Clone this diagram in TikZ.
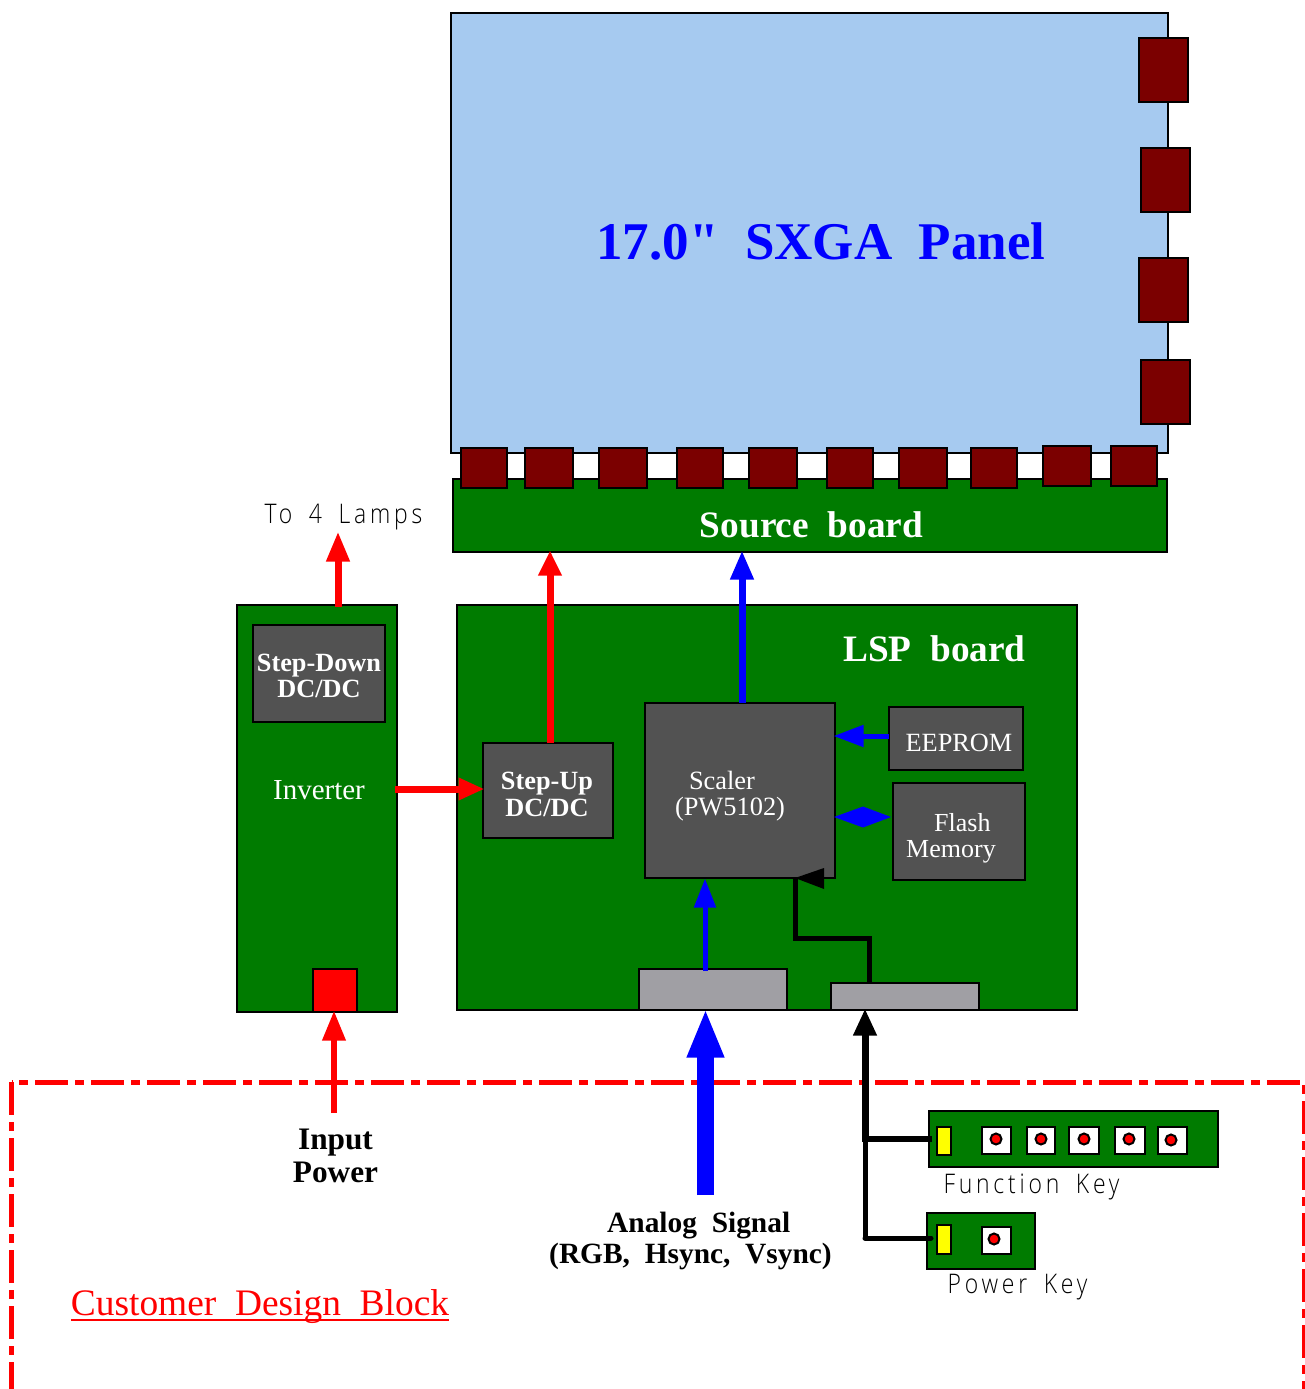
\documentclass[tikz,border=0pt]{standalone}
\usepackage{fontspec}
\setmainfont{Liberation Serif}
\newfontfamily\plainserif{Liberation Serif}
\newfontfamily\keyfont[FakeStretch=0.85,LetterSpace=14,WordSpace=1.7]{Open Sans Light}
\usetikzlibrary{arrows.meta,calc}
\definecolor{pcb}{HTML}{007B00}
\definecolor{chipgray}{HTML}{525252}
\definecolor{conngray}{HTML}{A09FA4}
\definecolor{panelblue}{HTML}{A6CAF0}
\definecolor{tabred}{HTML}{7B0000}
\definecolor{keyyellow}{HTML}{FFFF00}
\newcommand{\fs}[1]{\fontsize{#1}{#1}\selectfont}
\newcommand{\bx}[6]{\node[#2,minimum width={#5-#3},minimum height={#6-#4}] (#1) at ({(#3+#5)/2},{(#4+#6)/2}) {};}
\tikzset{
  blockbox/.style={draw=black,line width=2pt,inner sep=0pt,outer sep=0pt,rectangle},
  panelbox/.style={blockbox,fill=panelblue},
  board/.style={blockbox,fill=pcb},
  chip/.style={blockbox,fill=chipgray},
  conn/.style={blockbox,fill=conngray},
  tab/.style={blockbox,fill=tabred},
  yel/.style={blockbox,fill=keyyellow},
  keycap/.style={blockbox,fill=white},
  keydot/.style={draw=black,line width=2pt,fill=red,circle,inner sep=0pt,outer sep=0pt,minimum size=11pt},
  lbl/.style={inner sep=0pt,outer sep=0pt},
  wlbl/.style={lbl,text=white},
  keylbl/.style={lbl,anchor=base,font=\keyfont\fs{27},text=black},
  arr/.style n args={4}{draw=#1,line width=#2pt,shorten >=-1.5pt,-{Triangle[length=#3pt,width=#4pt,fill=#1]}},
  blackline/.style={draw=black,line width=5pt},
  customer/.style={draw=red,line width=5pt,dash pattern=on 33pt off 7pt on 9pt off 7pt},
}
\begin{document}
\begin{tikzpicture}[x=1pt,y=-1pt]
\useasboundingbox (0,0) rectangle (1305,1389);
% customer block
\coordinate (cbl) at (11.5,1395);
\coordinate (ctl) at (11.5,1082);
\coordinate (ctr) at (1304,1082);
\coordinate (cbr) at (1304,1395);
\draw[customer] (ctl) -- (cbl);
\draw[customer,dash phase=32.5pt] (ctl) -- (ctr) -- (cbr);
% panel
\bx{panel}{panelbox}{451}{13}{1168}{453}
\bx{source}{board}{453}{479}{1167}{552}
\bx{r1}{tab}{1139}{38}{1188}{102}
\bx{r2}{tab}{1141}{148}{1190}{212}
\bx{r3}{tab}{1139}{258}{1188}{322}
\bx{r4}{tab}{1141}{360}{1190}{424}
\bx{b1}{tab}{461}{448}{507}{488}
\bx{b2}{tab}{525}{448}{573}{488}
\bx{b3}{tab}{599}{448}{647}{488}
\bx{b4}{tab}{677}{448}{723}{488}
\bx{b5}{tab}{749}{448}{797}{488}
\bx{b6}{tab}{827}{448}{873}{488}
\bx{b7}{tab}{899}{448}{947}{488}
\bx{b8}{tab}{971}{448}{1017}{488}
\bx{b9}{tab}{1043}{446}{1091}{486}
\bx{b10}{tab}{1111}{446}{1157}{486}
% boards
\bx{inverter}{board}{237}{605}{397}{1012}
\bx{lsp}{board}{457}{605}{1077}{1010}
\bx{stepdown}{chip}{253}{625}{385}{722}
\bx{stepup}{chip}{483}{743}{613}{838}
\bx{scaler}{chip}{645}{703}{835}{878}
\bx{eeprom}{chip}{889}{707}{1023}{770}
\bx{flash}{chip}{893}{783}{1025}{880}
\bx{conna}{conn}{639}{969}{787}{1010}
\bx{connb}{conn}{831}{983}{979}{1010}
\node[blockbox,fill=red,minimum width=44,minimum height=43] (powerin) at (335,990.5) {};
% key boards
\bx{fkey}{board}{929}{1111}{1218}{1167}
\bx{pkey}{board}{927}{1213}{1035}{1269}
\bx{fyel}{yel}{937}{1127}{951}{1155}
\bx{pyel}{yel}{937}{1225}{951}{1254}
\bx{k1}{keycap}{982}{1127}{1011}{1154}
\bx{k2}{keycap}{1027}{1127}{1055}{1154}
\bx{k3}{keycap}{1069}{1127}{1099}{1154}
\bx{k4}{keycap}{1115}{1127}{1145}{1154}
\bx{k5}{keycap}{1158}{1127}{1187}{1154}
\bx{k6}{keycap}{982}{1227}{1011}{1254}
\node[keydot] (d1) at (996,1139) {};
\node[keydot] (d2) at (1041,1139) {};
\node[keydot] (d3) at (1084,1139) {};
\node[keydot] (d4) at (1129,1139) {};
\node[keydot] (d5) at (1171,1140) {};
\node[keydot] (d6) at (994,1239) {};
% text
\node[lbl,text=blue,font=\plainserif\bfseries\fs{53}] (tpanel) at (821,241) {17.0"\ \ SXGA\ \ Panel};
\node[wlbl,font=\bfseries\fs{37.3}] (tsource) at (811.5,525) {Source\ \ board};
\node[wlbl,font=\bfseries\fs{37.3}] (tlsp) at (934.5,649) {LSP\ \ board};
\node[keylbl] (tlamps) at (343.5,523) {To 4 Lamps};
\node[wlbl,font=\bfseries\fs{26.3},align=center] (tsd) at (319,676) {Step-Down\\[0pt]DC/DC};
\node[wlbl,font=\fs{29}] (tinv) at (319,790) {Inverter};
\node[wlbl,font=\bfseries\fs{26.3},align=center] (tsu) at (547,794.5) {Step-Up\\[0pt]DC/DC};
\node[wlbl,font=\fs{26.4},align=left] (tscaler) at (730,796) {\hspace*{14pt}Scaler\\(PW5102)};
\node[wlbl,font=\fs{26.3}] (teeprom) at (959,743) {EEPROM};
\node[wlbl,font=\fs{26},align=left] (tflash) at (951,838.5) {\hspace*{28pt}Flash\\[0pt]Memory};
\node[lbl,font=\bfseries\fs{31.3},align=center] (tinput) at (335.5,1156) {Input\\[2pt]Power};
\node[lbl,font=\bfseries\fs{29.4},align=left] (tanalog) at (690.5,1241) {\hspace*{58pt}Analog\ \ Signal\\[2pt](RGB,\ \ Hsync,\ \ Vsync)};
\node[keylbl] (tfkey) at (1031.5,1193) {Function Key};
\node[keylbl] (tpkey) at (1017.5,1293) {Power Key};
\node[lbl,anchor=base,text=red,font=\fs{37.4}] (tcust) at (260,1315) {Customer\ \ Design\ \ Block};
\draw[red,line width=2.5pt] (tcust.west |- 0,1320) -- (tcust.east |- 0,1320);
% connectors
\coordinate (lampstart) at (338,607);
\coordinate (lampend) at (338,533);
\coordinate (inputstart) at (334,1113);
\coordinate (analogstart) at (705.5,1195);
\coordinate (junctionf) at (865,1139);
\coordinate (junctionp) at (865,1238);
\draw[arr={red}{7}{30}{22}] (lampstart) -- (lampend);
\draw[arr={red}{6.5}{30}{22}] (inputstart) -- (inputstart |- inverter.south);
\draw[arr={red}{7}{26}{21}] (395,789) -- (stepup.west |- 0,789);
\draw[arr={red}{7}{25}{22}] ([xshift=2pt]stepup.north) -- ([xshift=2pt]stepup.north |- source.south);
\draw[arr={blue}{7}{29}{22}] ([xshift=2pt]scaler.north) -- ([xshift=2pt]scaler.north |- source.south);
\draw[arr={blue}{5}{30}{21}] (eeprom.west |- 0,736) -- (scaler.east |- 0,736);
\fill[blue] ([xshift=-2pt]flash.west |- 0,817) -- (863,806.5) -- ([xshift=-1pt]scaler.east |- 0,817) -- (863,827.5) -- cycle;
\draw[arr={blue}{5}{29}{21}] (705,971) -- (705,880);
\draw[arr={blue}{16.5}{49}{34}] (analogstart) -- (analogstart |- lsp.south);
\draw[blackline,line join=miter] ([xshift=-36pt]connb.north) -- ++(0,-45) -| (795,878);
\fill[black] (795,878) -- (824,868) -- (824,889) -- cycle;
\draw[arr={black}{7}{27}{22}] ([yshift=-3pt]junctionf) -- (junctionf |- lsp.south);
\draw[blackline] (junctionp) -- (junctionf);
\draw[draw=black,line width=6pt] (junctionf) -- (932,1139);
\draw[blackline,line cap=round] (junctionp) -- (931,1238);
\end{tikzpicture}
\end{document}
